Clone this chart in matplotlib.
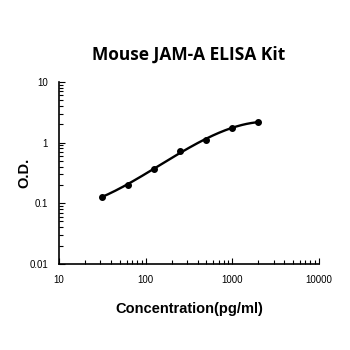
import numpy as np
import matplotlib.pyplot as plt
from matplotlib.ticker import FixedLocator, LogLocator, NullFormatter

# standard curve data
conc = [31.25, 62.5, 125, 250, 500, 1000, 2000]
od = [0.129, 0.200, 0.369, 0.730, 1.10, 1.75, 2.19]

x_ticks = [10, 100, 1000, 10000]
x_labels = ['10', '100', '1000', '10000']
y_ticks = [0.01, 0.1, 1, 10]
y_labels = ['0.01', '0.1', '1', '10']

plt.rcParams['font.family'] = ['Liberation Sans', 'DejaVu Sans']

fig = plt.figure(figsize=(3.5, 3.5), dpi=100)
ax = fig.add_axes([0.169, 0.246, 0.742, 0.52])

# fitted curve (cubic in log-log space)
lx = np.log10(conc)
ly = np.log10(od)
coef = np.polyfit(lx, ly, 3)
xs = np.linspace(lx[0], lx[-1], 200)
ax.plot(10 ** xs, 10 ** np.polyval(coef, xs), color='black', lw=1.7)
ax.plot(conc, od, 'o', color='black', ms=4)

ax.set_xscale('log')
ax.set_yscale('log')
ax.set_xlim(10, 10000)
ax.set_ylim(0.01, 10)
ax.xaxis.set_major_locator(FixedLocator(x_ticks))
ax.set_xticklabels(x_labels)
ax.yaxis.set_major_locator(FixedLocator(y_ticks))
ax.set_yticklabels(y_labels)
ax.xaxis.set_minor_locator(LogLocator(base=10, subs=np.arange(2, 10)))
ax.yaxis.set_minor_locator(LogLocator(base=10, subs=np.arange(2, 10)))
ax.xaxis.set_minor_formatter(NullFormatter())
ax.yaxis.set_minor_formatter(NullFormatter())
ax.tick_params(which='both', direction='in', labelsize=7, width=0.8)
ax.tick_params(which='major', length=4, pad=8)
ax.tick_params(which='minor', length=3)
ax.spines['top'].set_visible(False)
ax.spines['right'].set_visible(False)
ax.spines['left'].set_linewidth(1.2)
ax.spines['bottom'].set_linewidth(1.2)

ax.set_xlabel('Concentration(pg/ml)', fontsize=10.5, fontweight='bold', labelpad=12)
ax.set_ylabel('O.D.', fontsize=10.5, fontweight='bold')
ax.yaxis.set_label_coords(-0.108, 0.5)
fig.text(0.54, 0.843, 'Mouse JAM-A ELISA Kit', ha='center', va='center',
         fontsize=12.5, fontweight='bold', family=['Open Sans', 'DejaVu Sans'])

fig.savefig('out.png', dpi=100, facecolor='white')
